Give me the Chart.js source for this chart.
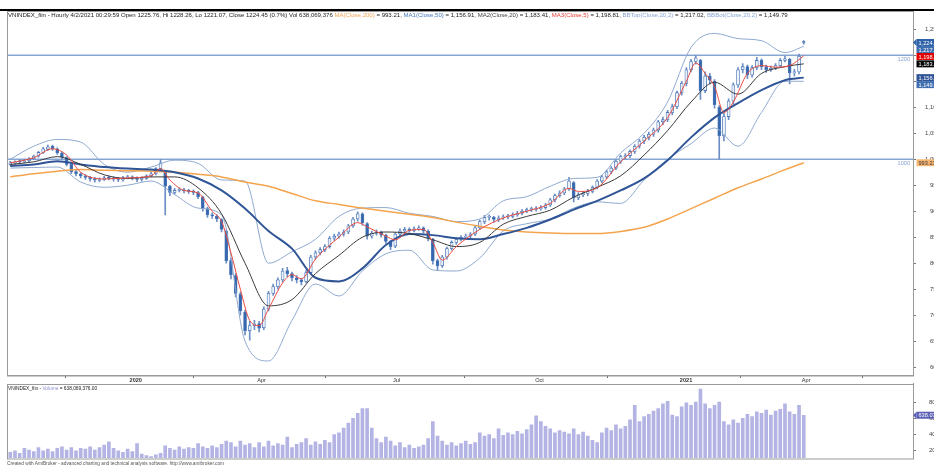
<!DOCTYPE html>
<html>
<head>
<meta charset="utf-8">
<title>VNINDEX_fiin - Hourly</title>
<script src="https://cdn.jsdelivr.net/npm/chart.js@4.4.0/dist/chart.umd.min.js"></script>
<style>
  html, body { margin: 0; padding: 0; background: #fff; overflow: hidden; }
  #wrap { position: relative; width: 934px; height: 467px; overflow: hidden; }
  canvas { position: absolute; left: 0; }
  #price { top: 0; }
  #vol { top: 383px; }
  .txt { position: absolute; font-family: Arial, "Liberation Sans", sans-serif; white-space: nowrap; color: #222; }
  #topbar { position: absolute; left: 0; top: 9px; width: 934px; height: 2px; background: #000; }
</style>
</head>
<body>
<div id="wrap">
  <canvas id="price" width="960" height="383"></canvas>
  <canvas id="vol" width="960" height="84"></canvas>
  <div id="topbar"></div>
  <div class="txt" id="title" style="left:8px; top:12px; font-size:6.05px;">VNINDEX_fiin - Hourly 4/2/2021 00:29:59 Open 1225.76, Hi 1228.26, Lo 1221.07, Close 1224.45 (0.7%) Vol 638,069,376 <span style="color:#f0a658">MA(Close,200)</span> = 993.21, <span style="color:#4a78c0">MA1(Close,50)</span> = 1,156.91, <span style="color:#444">MA2(Close,20)</span> = 1,183.41, <span style="color:#e8413c">MA3(Close,5)</span> = 1,198.81, <span style="color:#86a5d2">BBTop(Close,20,2)</span> = 1,217.02, <span style="color:#86a5d2">BBBot(Close,20,2)</span> = 1,149.79</div>
  <div class="txt" style="left:8px; top:385.5px; font-size:4.8px;">VNINDEX_fiin - <span style="color:#8f8fd6">Volume</span> = 638,069,376.00</div>
  <div class="txt" style="left:7px; top:461px; font-size:4.75px; color:#555;">Created with AmiBroker - advanced charting and technical analysis software. http://www.amibroker.com</div>
</div>
<script>
  // daily-ish bars, index 0 = mid Nov 2019, last = 4/2/2021
  const opens = [990,993,996,995,997,1001,1006,1013,1019,1025,
    1020,1012,1003,990,976,972,968,965,962,959,
    961,965,963,962,960,964,966,964,961,963,
    968,972,982,975,948,936,940,941,939,938,
    936,927,905,893,890,884,862,805,776,740,
    706,670,680,684,676,712,742,755,768,786,
    780,772,768,765,782,812,820,826,832,848,
    852,856,860,872,885,895,876,852,858,860,
    854,842,833,856,862,865,863,866,868,862,
    846,805,795,812,828,840,846,850,852,856,
    868,880,888,888,884,887,889,890,893,896,
    900,903,904,905,907,912,922,930,935,943,
    955,926,932,934,938,946,958,966,976,983,
    996,1005,1007,1015,1025,1035,1042,1048,1056,1072,
    1076,1090,1101,1128,1146,1172,1188,1190,1132,1160,
    1150,1100,1045,1082,1112,1143,1172,1178,1162,1176,
    1190,1178,1172,1175,1180,1190,1192,1166,1168,1225.76];
  const highs = [996,997,999,1000,1003,1008,1015,1023,1027,1027,
    1022,1014,1005,992,979,974,970,967,965,964,
    967,968,966,965,967,969,968,966,966,970,
    975,984,1000,978,950,944,945,944,942,941,
    938,929,908,897,893,886,864,810,780,744,
    710,688,690,688,716,746,760,772,790,792,
    783,776,771,786,815,824,830,836,851,856,
    860,864,875,888,899,897,878,862,864,862,
    856,844,859,866,869,868,870,872,870,864,
    848,808,815,831,843,849,853,856,859,871,
    883,892,893,890,891,893,894,897,900,903,
    906,908,909,911,915,925,933,939,946,965,
    957,936,938,942,949,961,969,979,986,999,
    1008,1011,1018,1028,1038,1046,1052,1060,1075,1081,
    1094,1106,1131,1150,1176,1192,1200,1192,1168,1165,
    1153,1103,1088,1116,1147,1176,1184,1181,1180,1196,
    1193,1181,1179,1184,1194,1198,1194,1173,1202,1228.26];
  const lows = [988,990,992,993,995,999,1004,1011,1017,1017,
    1009,1000,987,972,968,964,961,958,956,957,
    959,960,958,957,958,962,960,957,958,961,
    966,970,980,893,930,933,937,935,934,932,
    924,900,888,886,880,860,800,770,735,700,
    662,652,672,668,672,708,738,750,764,774,
    766,762,758,762,779,808,816,822,829,844,
    848,852,857,869,881,873,846,848,854,850,
    838,826,830,852,858,859,860,863,858,843,
    798,786,792,808,825,836,843,847,849,853,
    865,876,883,879,880,884,885,887,890,893,
    897,899,900,902,904,909,918,927,932,940,
    918,922,928,930,935,943,955,963,972,980,
    992,1000,1003,1011,1021,1030,1037,1044,1052,1066,
    1072,1085,1097,1123,1141,1168,1183,1115,1128,1145,
    1098,1000,1035,1076,1106,1138,1166,1155,1158,1172,
    1172,1167,1169,1172,1176,1187,1145,1160,1164,1221.07];
  const closes = [993,994,995,997,1000,1006,1013,1020,1024,1020,
    1012,1004,990,976,972,968,965,962,960,961,
    964,963,962,961,964,966,964,961,963,968,
    972,982,993,948,936,940,941,939,938,936,
    928,905,893,891,885,865,805,778,742,708,
    670,680,683,675,712,742,755,768,785,780,
    772,768,764,782,812,820,826,832,848,852,
    856,860,872,885,895,878,852,858,860,854,
    842,832,856,862,865,863,866,868,862,848,
    805,795,812,828,840,846,850,852,856,868,
    880,888,888,884,887,889,890,893,896,900,
    903,904,905,907,912,922,930,935,943,958,
    926,932,934,938,946,958,966,976,983,996,
    1005,1007,1015,1025,1035,1042,1048,1056,1072,1076,
    1090,1101,1128,1146,1172,1188,1195,1132,1160,1152,
    1105,1045,1082,1112,1143,1172,1178,1162,1176,1190,
    1178,1172,1175,1180,1190,1193,1166,1168,1198,1224.45];
  // volume in millions of shares
  const volumes = [180,200,170,230,210,190,240,200,220,190,
    230,250,210,240,200,230,220,250,210,240,
    270,310,230,200,180,220,190,290,160,140,
    130,150,170,260,230,210,250,220,240,230,
    290,250,230,260,240,280,320,300,250,320,
    270,290,240,300,250,320,260,290,270,370,
    240,280,300,350,270,310,280,330,300,400,
    420,480,540,600,660,720,720,480,350,300,
    370,320,260,300,240,270,230,250,270,350,
    560,380,320,270,300,260,290,320,280,300,
    420,380,400,350,470,390,420,400,440,410,
    460,520,630,560,500,470,420,450,430,410,
    470,400,430,380,330,300,420,480,450,520,
    470,500,580,760,560,620,650,690,720,780,
    810,640,620,740,790,760,800,960,780,720,
    760,800,560,520,580,540,600,650,620,680,
    660,700,640,690,710,780,680,650,760,638.07];

  // indicator readings, sampled every few bars
  const maIdx = [0,5,10,15,20,25,30,35,40,45,50,55,60,65,70,75,80,85,90,95,100,105,110,115,120,125,130,135,140,145,150,155,160,165,169];
  const ma200 = [966,972,977,980,979,978,977,975,971,966,956,948,934,920,913,906,900,894,888,879,871,864,860,858,857,857,861,869,885,905,925,945,962,980,993.21];
  const ma50 = [987,990,996,990,985,982,980,975,963,940,905,862,828,772,765,790,835,856,854,848,846,856,868,884,903,920,940,963,998,1042,1080,1108,1133,1152,1156.91];
  const ma20 = [990,995,1005,990,970,963,966,966,945,895,800,718,730,780,815,850,860,857,845,832,840,875,890,902,927,946,968,1008,1055,1110,1148,1125,1165,1178,1183.41];
  const bbTop = [1000,1025,1038,1033,990,975,985,998,992,960,958,800,822,846,890,906,907,896,890,880,885,920,928,948,963,965,1012,1050,1110,1215,1242,1232,1228,1205,1217.02];
  const bbBot = [983,984,985,956,946,950,958,932,906,893,650,612,690,760,737,785,818,825,787,785,810,862,876,885,906,918,915,960,1000,1030,1060,1025,1090,1150,1149.79];
  const ma5Idx = [0,5,9,12,15,20,25,30,32,34,37,40,43,45,47,49,51,53,55,58,60,62,65,70,74,76,80,82,85,88,90,92,95,100,105,110,115,119,121,125,130,135,140,144,146,148,150,152,154,157,160,163,166,169];
  const ma5 = [993,1003,1020,1008,975,962,964,968,982,960,940,935,900,880,820,750,690,680,712,762,778,770,808,850,878,870,852,845,863,865,840,806,832,865,887,900,915,944,938,945,995,1035,1080,1150,1185,1165,1140,1090,1110,1165,1180,1177,1180,1198.81];

  const studyLevels = [1200, 1000];
  const priceTicks = [600,650,700,750,800,850,900,950,1000,1050,1100,1150,1200,1250];
  const volTicks = [200,400,600,800];
  const tickIdx = [25.4, 52.6, 81.5, 111.8, 142.6, 168.6];
  const tickLabels = ['2020', 'Apr', 'Jul', 'Oct', '2021', 'Apr'];

  const FONT = 'Arial, "Liberation Sans", sans-serif';
  const last = a => a[a.length - 1];
  const fmt = v => v.toLocaleString('en-US', { minimumFractionDigits: 2, maximumFractionDigits: 2 });
  const toPts = (idx, vals) => idx.map((x, k) => ({ x: x, y: vals[k] }));

  // right-aligned axis labels; the window cuts them, as in the original screenshot
  function drawAxisLabels(chart, values, fmtFn, rightX) {
    const { ctx, scales: { y } } = chart;
    ctx.save();
    ctx.fillStyle = '#444';
    ctx.font = '6px ' + FONT;
    ctx.textAlign = 'right';
    ctx.textBaseline = 'middle';
    values.forEach(v => ctx.fillText(fmtFn(v), rightX, y.getPixelForValue(v)));
    ctx.restore();
  }

  function drawTags(ctx, scale, x0, tags) {
    const h = 7;
    const items = tags.map(t => Object.assign({}, t, { py: scale.getPixelForValue(t.v) }))
      .sort((a, b) => a.py - b.py);
    let prev = -1e9;
    items.forEach(t => { if (t.py < prev + h) t.py = prev + h; prev = t.py; });
    ctx.save();
    ctx.font = '5.6px ' + FONT;
    ctx.textBaseline = 'middle';
    ctx.textAlign = 'left';
    items.forEach(t => {
      ctx.fillStyle = t.bg;
      if (t.arrow) {
        ctx.beginPath();
        ctx.moveTo(x0, t.py);
        ctx.lineTo(x0 + 3.5, t.py - h / 2);
        ctx.lineTo(x0 + 3.5, t.py + h / 2);
        ctx.closePath();
        ctx.fill();
      }
      ctx.fillRect(x0 + 3.5, t.py - h / 2, 60, h);
      ctx.fillStyle = t.fg;
      ctx.fillText(t.text, x0 + 5.5, t.py + 0.5);
    });
    ctx.restore();
  }

  function drawFrame(chart) {
    const { ctx, chartArea: a } = chart;
    ctx.save();
    ctx.strokeStyle = '#9a9a9a';
    ctx.lineWidth = 1;
    ctx.strokeRect(Math.round(a.left) + 0.5, Math.round(a.top) + 0.5, a.right - a.left, a.bottom - a.top);
    ctx.restore();
  }

  const pricePlugin = {
    id: 'pricePane',
    beforeDatasetsDraw(chart) {
      const { ctx, chartArea: a, scales: { y } } = chart;
      ctx.save();
      ctx.strokeStyle = '#86a5d2';
      ctx.lineWidth = 1.4;
      studyLevels.forEach(v => {
        const py = y.getPixelForValue(v);
        ctx.beginPath(); ctx.moveTo(a.left, py); ctx.lineTo(a.right, py); ctx.stroke();
      });
      ctx.fillStyle = '#86a5d2';
      ctx.font = '5.6px ' + FONT;
      ctx.textAlign = 'right';
      ctx.textBaseline = 'top';
      studyLevels.forEach(v => ctx.fillText(String(v), a.right - 3, y.getPixelForValue(v) + 1.5));
      ctx.restore();
    },
    afterDraw(chart) {
      drawFrame(chart);
      drawAxisLabels(chart, priceTicks, v => v.toLocaleString('en-US'), 940);
      drawTags(chart.ctx, chart.scales.y, chart.chartArea.right, [
        { v: last(closes), bg: '#2f62a8', fg: '#fff', arrow: true, text: fmt(last(closes)) },
        { v: last(bbTop), bg: '#3f6fb0', fg: '#fff', text: fmt(last(bbTop)) },
        { v: last(ma5), bg: '#e00000', fg: '#fff', text: fmt(last(ma5)) },
        { v: last(ma20), bg: '#000', fg: '#fff', text: fmt(last(ma20)) },
        { v: last(ma50), bg: '#2f5597', fg: '#fff', text: fmt(last(ma50)) },
        { v: last(bbBot), bg: '#3f6fb0', fg: '#fff', text: fmt(last(bbBot)) },
        { v: last(ma200), bg: '#f7b774', fg: '#333', text: fmt(last(ma200)) }
      ]);
    }
  };

  const volPlugin = {
    id: 'volPane',
    afterDraw(chart) {
      drawFrame(chart);
      drawAxisLabels(chart, volTicks, v => v + 'M', 944);
      drawTags(chart.ctx, chart.scales.y, chart.chartArea.right, [
        { v: last(volumes), bg: '#5b60b4', fg: '#fff', arrow: true, text: fmt(last(volumes)) + 'M' }
      ]);
    }
  };

  const upDown = (ctx, up, down) => {
    const i = ctx.dataIndex;
    return closes[i] >= opens[i] ? up : down;
  };

  const rightAxis = (min, max, ticks) => ({
    type: 'linear', position: 'right', min: min, max: max,
    grid: { drawOnChartArea: false, tickLength: 3, color: '#777' },
    border: { display: true, color: '#9a9a9a' },
    ticks: { display: false },
    afterBuildTicks: s => { s.ticks = ticks.map(v => ({ value: v })); },
    afterFit: s => { s.width = 47; }
  });

  new Chart(document.getElementById('price'), {
    type: 'bar',
    data: {
      datasets: [
        { type: 'line', data: toPts(ma5Idx, ma5), borderColor: '#ea4a40', borderWidth: 1, pointRadius: 0, cubicInterpolationMode: 'monotone', order: 0 },
        { type: 'line', data: toPts(maIdx, ma20), borderColor: '#3a3a3a', borderWidth: 1, pointRadius: 0, cubicInterpolationMode: 'monotone', order: 0 },
        { type: 'line', data: toPts(maIdx, ma50), borderColor: '#2f5597', borderWidth: 2, pointRadius: 0, cubicInterpolationMode: 'monotone', order: 0 },
        { type: 'line', data: toPts(maIdx, ma200), borderColor: '#f5a44e', borderWidth: 1.5, pointRadius: 0, cubicInterpolationMode: 'monotone', order: 0 },
        { type: 'line', data: toPts(maIdx, bbTop), borderColor: '#8ea9d0', borderWidth: 1, pointRadius: 0, cubicInterpolationMode: 'monotone', order: 0 },
        { type: 'line', data: toPts(maIdx, bbBot), borderColor: '#8ea9d0', borderWidth: 1, pointRadius: 0, cubicInterpolationMode: 'monotone', order: 0 },
        {
          data: closes.map((c, i) => ({ x: i, y: [opens[i], c] })),
          backgroundColor: ctx => upDown(ctx, '#eef3fb', '#3567ae'),
          borderColor: '#4d79b8', borderWidth: 0.8, borderSkipped: false,
          barThickness: 3, minBarLength: 1, grouped: false, order: 1
        },
        {
          data: closes.map((c, i) => ({ x: i, y: [lows[i], highs[i]] })),
          backgroundColor: '#6b8ec4', barThickness: 1, grouped: false, order: 2
        }
      ]
    },
    options: {
      responsive: false,
      devicePixelRatio: 1,
      animation: false,
      events: [],
      layout: { padding: { left: 7, top: 10.5, right: 0, bottom: 0 } },
      plugins: { legend: { display: false }, tooltip: { enabled: false } },
      scales: {
        x: {
          type: 'linear', min: -0.7, max: 192.27, offset: false,
          grid: { drawOnChartArea: false, tickLength: 3, color: '#666' },
          border: { display: true, color: '#9a9a9a' },
          ticks: {
            align: 'start', padding: -1, maxRotation: 0, autoSkip: false, color: '#333',
            font: ctx => ({ family: FONT, size: 5.6, weight: (tickLabels[ctx.index] || '').length === 4 ? 'bold' : 'normal' }),
            callback: (v, k) => tickLabels[k]
          },
          afterBuildTicks: s => { s.ticks = tickIdx.map(v => ({ value: v })); },
          afterFit: s => { s.height = 8; }
        },
        y: rightAxis(585, 1286, priceTicks)
      }
    },
    plugins: [pricePlugin]
  });

  new Chart(document.getElementById('vol'), {
    type: 'bar',
    data: {
      datasets: [{
        data: volumes.map((v, i) => ({ x: i, y: v })),
        backgroundColor: '#b4b4e4', barThickness: 3
      }]
    },
    options: {
      responsive: false,
      devicePixelRatio: 1,
      animation: false,
      events: [],
      layout: { padding: { left: 7, top: 0.5, right: 0, bottom: 9 } },
      plugins: { legend: { display: false }, tooltip: { enabled: false } },
      scales: {
        x: { type: 'linear', min: -0.7, max: 192.27, offset: false, display: false },
        y: rightAxis(111, 1029, volTicks)
      }
    },
    plugins: [volPlugin]
  });
</script>
</body>
</html>
